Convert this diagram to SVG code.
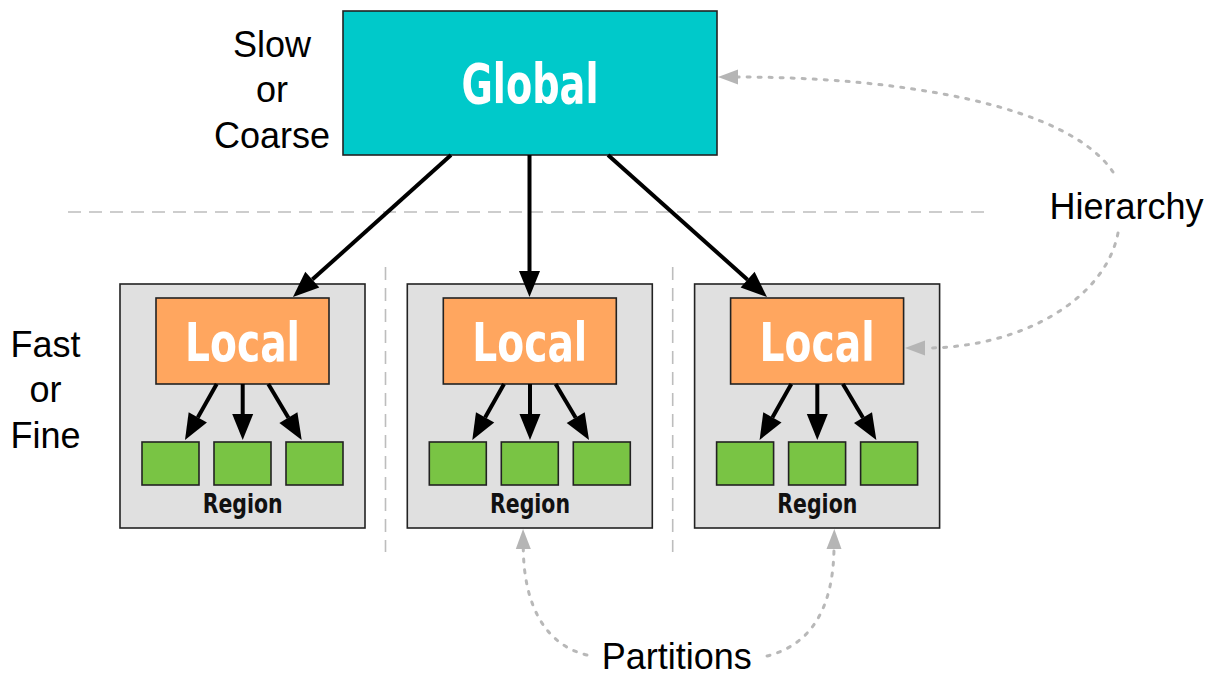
<svg xmlns="http://www.w3.org/2000/svg" width="1225" height="677" viewBox="0 0 1225 677">
  <style>
    .label { font-family: "Liberation Sans", Arial, sans-serif; font-size: 36px; fill: #000; text-anchor: middle; }
    .title { font-family: "Liberation Sans Narrow", "DejaVu Sans Condensed", "Liberation Sans", sans-serif; font-weight: bold; fill: #fff; text-anchor: middle; }
    .region-name { font-family: "Liberation Sans Narrow", "DejaVu Sans Condensed", "Liberation Sans", sans-serif; font-weight: bold; font-size: 26px; fill: #111; text-anchor: middle; }
    .box { stroke: #222; stroke-width: 1.6; }
    .global { fill: #00c9ca; }
    .local { fill: #ffa65f; }
    .cell { fill: #79c444; }
    .region { fill: #e0e0e0; }
    .edge { fill: none; stroke: #000; stroke-width: 4; }
    .guide { fill: none; stroke: #bdbdbd; stroke-width: 1.6; stroke-dasharray: 13 8; }
    .hint { fill: none; stroke: #b8b8b8; stroke-width: 3; stroke-dasharray: 3 8; stroke-linecap: round; }
  </style>
  <defs>
    <marker id="head" markerUnits="userSpaceOnUse" markerWidth="28" markerHeight="24" refX="0" refY="11" orient="auto" overflow="visible">
      <path d="M0,0.5 L26,11 L0,21.5 z" fill="#000"/>
    </marker>
    <marker id="softHead" markerUnits="userSpaceOnUse" markerWidth="22" markerHeight="18" refX="0" refY="8" orient="auto" overflow="visible">
      <path d="M0,0.5 L20,8 L0,15.5 z" fill="#b5b5b5"/>
    </marker>
    <!-- one region: gray frame, local controller, three cells -->
    <g id="regionTemplate">
      <rect class="box region" x="120" y="284" width="245" height="244"/>
      <rect class="box local" x="156" y="298" width="173" height="86"/>
      <text class="title" x="242.5" y="360.7" font-size="54" textLength="115" lengthAdjust="spacingAndGlyphs">Local</text>
      <rect class="box cell" x="142" y="442" width="57" height="43"/>
      <rect class="box cell" x="214" y="442" width="57" height="43"/>
      <rect class="box cell" x="286" y="442" width="57" height="43"/>
      <path class="edge" d="M216.7,384 L197.8,417.4" marker-end="url(#head)"/>
      <path class="edge" d="M242.7,384 L242.7,414" marker-end="url(#head)"/>
      <path class="edge" d="M268.3,384 L288.4,417.7" marker-end="url(#head)"/>
      <text class="region-name" x="242.7" y="512.5" textLength="80" lengthAdjust="spacingAndGlyphs">Region</text>
    </g>
  </defs>

  <!-- layer guides -->
  <g id="guides">
    <line class="guide" x1="68" y1="212" x2="990" y2="212"/>
    <line class="guide" x1="385.5" y1="267" x2="385.5" y2="552"/>
    <line class="guide" x1="672.7" y1="267" x2="672.7" y2="552"/>
  </g>

  <!-- side labels -->
  <g id="timescale-labels">
    <text class="label" x="272" y="56.7">Slow</text>
    <text class="label" x="272" y="101.7">or</text>
    <text class="label" x="272" y="148">Coarse</text>
    <text class="label" x="45.5" y="356.7">Fast</text>
    <text class="label" x="45.5" y="401.7">or</text>
    <text class="label" x="45.5" y="448">Fine</text>
  </g>

  <g id="global">
    <rect class="box global" x="343" y="11" width="374" height="144"/>
    <text class="title" x="530" y="103.3" font-size="55" textLength="137" lengthAdjust="spacingAndGlyphs">Global</text>
  </g>

  <g id="region-1"><use href="#regionTemplate"/></g>
  <g id="region-2"><use href="#regionTemplate" transform="translate(287.3,0)"/></g>
  <g id="region-3"><use href="#regionTemplate" transform="translate(574.6,0)"/></g>

  <g id="connectors">
    <path class="edge" d="M451,155 L312.3,279.6" marker-end="url(#head)"/>
    <path class="edge" d="M529.5,155 L529.5,271" marker-end="url(#head)"/>
    <path class="edge" d="M608,155 L747.6,279.7" marker-end="url(#head)"/>

    <path class="hint" d="M1113,172 C1068,105 900,77 738,77" marker-end="url(#softHead)"/>
    <path class="hint" d="M1118,233 C1105,300 1020,348 925,348" marker-end="url(#softHead)"/>
    <path class="hint" d="M587,655 C545,645 524,605 523.3,549" marker-end="url(#softHead)"/>
    <path class="hint" d="M767,656 C810,645 833,610 834,549" marker-end="url(#softHead)"/>
  </g>

  <g id="annotations">
    <text class="label" x="1126.5" y="219" font-size="37">Hierarchy</text>
    <text class="label" x="676.7" y="668.5" font-size="37">Partitions</text>
  </g>
</svg>
